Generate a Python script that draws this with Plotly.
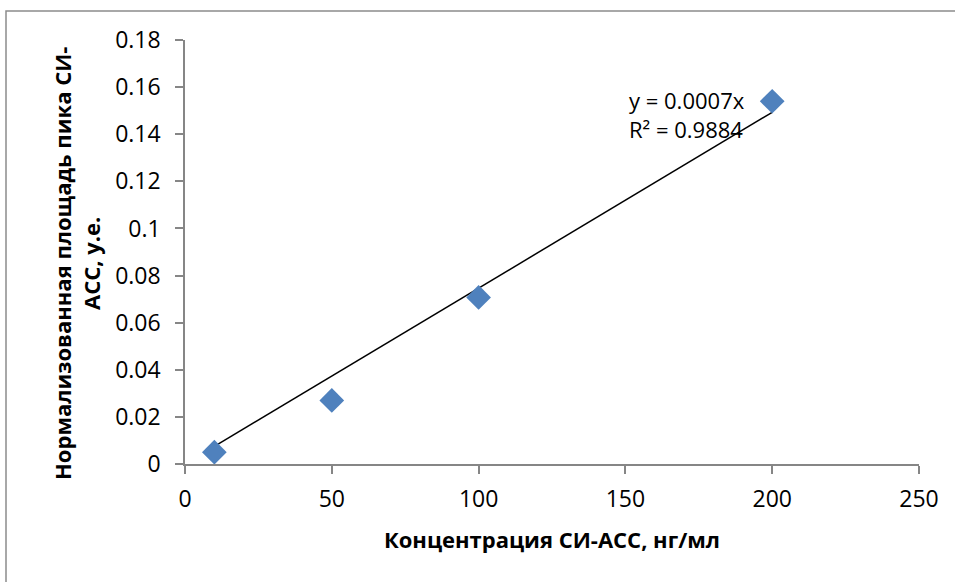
import numpy as np
import plotly.graph_objects as go

# Calibration data
concentration = [10, 50, 100, 200]          # нг/мл
peak_area = [0.005, 0.027, 0.0707, 0.154]   # у.е.

x_ticks = [0, 50, 100, 150, 200, 250]
y_ticks = [0, 0.02, 0.04, 0.06, 0.08, 0.1, 0.12, 0.14, 0.16, 0.18]
y_tick_labels = ["0", "0.02", "0.04", "0.06", "0.08", "0.1", "0.12", "0.14", "0.16", "0.18"]

# Linear fit through the origin
xa = np.array(concentration, dtype=float)
ya = np.array(peak_area, dtype=float)
slope = float((xa * ya).sum() / (xa * xa).sum())
pred = slope * xa
r2 = 1 - ((ya - pred) ** 2).sum() / ((ya - ya.mean()) ** 2).sum()

fit_x = [min(concentration), max(concentration)]
fit_y = [slope * v for v in fit_x]

FONT = "'Open Sans', Lato, sans-serif"

fig = go.Figure()
fig.add_trace(go.Scatter(
    x=fit_x, y=fit_y, mode="lines",
    line=dict(color="black", width=1.5), showlegend=False, hoverinfo="skip",
))
fig.add_trace(go.Scatter(
    x=concentration, y=peak_area, mode="markers",
    marker=dict(symbol="diamond", size=19, color="#4F81BD",
                line=dict(width=0)),
    showlegend=False,
))

L, R, T, B = 185, 36, 40, 118
W, H = 955, 582
pw, ph = W - L - R, H - T - B

fig.update_layout(
    width=W, height=H,
    margin=dict(l=L, r=R, t=T, b=B),
    paper_bgcolor="white", plot_bgcolor="white",
    font=dict(family=FONT, size=20, color="black"),
    xaxis=dict(
        range=[0, 250], tickvals=x_ticks, ticktext=[str(v) for v in x_ticks],
        showgrid=False, zeroline=False, showline=True, linecolor="#868686", linewidth=1.5,
        ticks="outside", ticklen=8, tickcolor="#868686", tickwidth=1.5,
        tickfont=dict(size=23), ticklabelstandoff=6, fixedrange=True,
        title=dict(text="<b>Концентрация СИ-АСС, нг/мл</b>", font=dict(size=22), standoff=19),
    ),
    yaxis=dict(
        range=[0, 0.18], tickvals=y_ticks, ticktext=y_tick_labels,
        showgrid=False, zeroline=False, showline=True, linecolor="#868686", linewidth=1.5,
        ticks="outside", ticklen=8, tickcolor="#868686", tickwidth=1.5,
        tickfont=dict(size=23), ticklabelstandoff=10, fixedrange=True,
    ),
    annotations=[
        dict(
            x=150.5, y=0.1619, xref="x", yref="y",
            xanchor="left", yanchor="top", align="left", showarrow=False,
            text=f"y = {slope:.4f}x<br>R² = {r2:.4f}",
            font=dict(size=22),
        ),
        # y-axis title
        dict(
            x=(76 - L) / pw, y=(H - B - 264) / ph, xref="paper", yref="paper",
            xanchor="center", yanchor="middle", showarrow=False, textangle=-90,
            text="<b>Нормализованная площадь пика СИ-<br>АСС, у.е.</b>",
            font=dict(size=22),
        ),
    ],
    shapes=[dict(
        type="rect", xref="paper", yref="paper",
        x0=(6 - L) / pw, x1=(W + 10 - L) / pw,
        y0=-(H + 10 - T - ph) / ph, y1=(H - 11 - B) / ph,
        line=dict(color="#8c8c8c", width=1.5), fillcolor="rgba(0,0,0,0)",
        layer="above",
    )],
)

fig.write_html("out.html")
